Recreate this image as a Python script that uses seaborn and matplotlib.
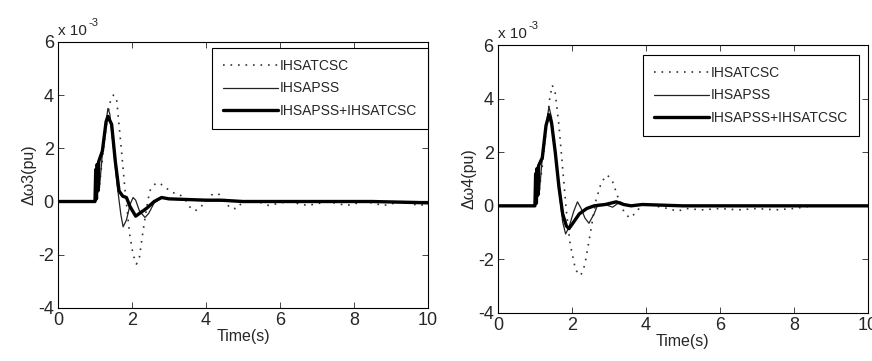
import matplotlib
matplotlib.use('Agg')
import matplotlib.pyplot as plt
import seaborn as sns
import pandas as pd

# values in units of 1e-3 pu
# --- machine 3 (left) ---
t3_tcsc = [0, 1.0, 1.03, 1.06, 1.09, 1.12, 1.2, 1.3, 1.4, 1.5, 1.58, 1.71, 1.82, 1.94, 2.03, 2.12, 2.2,
           2.3, 2.4, 2.48, 2.58, 2.66, 2.75, 2.84, 3.07, 3.3, 3.45, 3.56, 3.7, 3.84, 4.0, 4.15, 4.33,
           4.5, 4.65, 4.83, 5.0, 5.2, 5.4, 5.7, 6.2, 6.75, 7.3, 7.8, 8.3, 8.8, 9.3, 9.75, 10]
d3_tcsc = [0, 0, 0.8, 0.3, 1.2, 0.6, 1.6, 2.8, 3.7, 4.0, 3.9, 2.0, 0.3, -1.25, -2.0, -2.35, -2.1,
           -1.1, -0.2, 0.4, 0.6, 0.7, 0.68, 0.6, 0.35, 0.25, 0.05, -0.2, -0.35, -0.25, 0.05, 0.25, 0.3,
           0.05, -0.25, -0.27, 0.0, 0.05, 0.0, -0.15, 0.0, -0.15, 0.0, -0.15, 0.0, -0.15, 0.0, -0.15, -0.1]

t3_pss = [0, 1.0, 1.03, 1.06, 1.09, 1.12, 1.2, 1.3, 1.35, 1.4, 1.5, 1.6, 1.7, 1.76, 1.85, 1.95, 2.03,
          2.1, 2.2, 2.35, 2.45, 2.6, 2.8, 3.0, 3.5, 4.0, 5.0, 10]
d3_pss = [0, 0, 1.0, 0.2, 1.3, 0.5, 1.8, 3.0, 3.5, 3.3, 2.0, 0.6, -0.5, -0.95, -0.7, -0.1, 0.15,
          0.05, -0.35, -0.6, -0.45, -0.05, 0.15, 0.1, 0.05, 0.03, 0.0, 0.0]

t3_both = [0, 1.0, 1.02, 1.04, 1.06, 1.08, 1.1, 1.2, 1.3, 1.35, 1.45, 1.55, 1.65, 1.75, 1.85, 1.95,
           2.1, 2.2, 2.4, 2.6, 2.8, 3.0, 4.0, 4.4, 5.0, 8.5, 10]
d3_both = [0, 0, 1.2, 0.1, 1.4, 0.4, 1.5, 1.9, 3.0, 3.2, 2.9, 1.5, 0.4, 0.2, 0.15, -0.2,
           -0.55, -0.45, -0.25, 0.0, 0.15, 0.1, 0.05, 0.05, 0.0, 0.0, -0.05]

# --- machine 4 (right) ---
t4_tcsc = [0, 1.0, 1.03, 1.06, 1.09, 1.12, 1.2, 1.3, 1.4, 1.47, 1.55, 1.65, 1.75, 1.85, 1.95, 2.1,
           2.24, 2.35, 2.5, 2.65, 2.8, 2.96, 3.1, 3.25, 3.4, 3.55, 3.7, 3.9, 4.1, 4.4, 4.6, 4.85,
           5.1, 5.5, 6.0, 6.5, 7.0, 7.5, 8.0, 8.5, 10]
d4_tcsc = [0, 0, 0.8, 0.3, 1.2, 0.6, 1.5, 2.8, 4.0, 4.5, 4.2, 3.0, 1.4, -0.2, -1.4, -2.4,
           -2.6, -2.2, -1.0, 0.2, 0.9, 1.15, 0.9, 0.3, -0.2, -0.45, -0.3, 0.05, 0.05, -0.05, -0.1, -0.2,
           -0.1, -0.15, -0.1, -0.15, -0.1, -0.15, -0.1, 0.0, 0.0]

t4_pss = [0, 1.0, 1.03, 1.06, 1.09, 1.12, 1.2, 1.3, 1.38, 1.45, 1.55, 1.65, 1.75, 1.83, 1.92, 2.05,
          2.15, 2.25, 2.35, 2.46, 2.6, 2.7, 2.9, 3.1, 3.3, 3.5, 4.0, 5.0, 10]
d4_pss = [0, 0, 1.0, 0.2, 1.3, 0.5, 1.8, 3.0, 3.7, 3.3, 2.0, 0.6, -0.6, -1.05, -0.8, -0.2,
          0.15, -0.1, -0.45, -0.65, -0.3, 0.05, 0.05, -0.05, 0.15, 0.0, 0.05, 0.0, 0.0]

t4_both = [0, 1.0, 1.02, 1.04, 1.06, 1.08, 1.1, 1.2, 1.3, 1.38, 1.45, 1.55, 1.65, 1.75, 1.85, 1.92,
           2.05, 2.2, 2.4, 2.6, 2.9, 3.2, 3.4, 3.6, 3.9, 5.0, 10]
d4_both = [0, 0, 1.2, 0.1, 1.4, 0.4, 1.5, 1.8, 3.0, 3.4, 3.1, 2.0, 0.7, -0.3, -0.75, -0.85,
           -0.6, -0.3, -0.1, 0.0, 0.05, 0.15, 0.05, 0.0, 0.05, 0.0, 0.0]

labels = ['IHSATCSC', 'IHSAPSS', 'IHSAPSS+IHSATCSC']
ylabels = ['\u0394\u03c93(pu)', '\u0394\u03c94(pu)']
xticks = [0, 2, 4, 6, 8, 10]
yticks = [-4, -2, 0, 2, 4, 6]

sns.set_style('ticks', {'xtick.direction': 'in', 'ytick.direction': 'in',
                        'axes.edgecolor': 'black'})
plt.rcParams['font.family'] = ['Liberation Sans', 'DejaVu Sans']
plt.rcParams['axes.unicode_minus'] = False

fig = plt.figure(figsize=(8.72, 3.61), dpi=100)
axes = [fig.add_axes([0.0665, 0.147, 0.4243, 0.737]),
        fig.add_axes([0.571, 0.133, 0.4243, 0.742])]

panels = [[(t3_tcsc, d3_tcsc), (t3_pss, d3_pss), (t3_both, d3_both)],
          [(t4_tcsc, d4_tcsc), (t4_pss, d4_pss), (t4_both, d4_both)]]
styles = [dict(linestyle=(0, (1, 3.5)), linewidth=1.2, color='#333333'),
          dict(linestyle='-', linewidth=0.9, color='#222222'),
          dict(linestyle='-', linewidth=2.4, color='black')]
leg_anchor = [(1.0, 0.977), (0.976, 0.963)]

for ax, series, ylab, anc in zip(axes, panels, ylabels, leg_anchor):
    for (t, d), lab, st in zip(series, labels, styles):
        df = pd.DataFrame({'t': t, 'v': d})
        sns.lineplot(data=df, x='t', y='v', ax=ax, label=lab,
                     estimator=None, sort=False, **st)
    ax.set_xlim(0, 10)
    ax.set_ylim(-4, 6)
    ax.set_xticks(xticks)
    ax.set_yticks(yticks)
    ax.tick_params(top=True, right=True, length=4, width=0.6, labelsize=13, pad=3)
    for s in ax.spines.values():
        s.set_linewidth(0.8)
    ax.set_xlabel('Time(s)', fontsize=11.5, labelpad=0)
    ax.set_ylabel(ylab, fontsize=11.5, labelpad=1)
    ax.text(0.0, 1.015, 'x 10', transform=ax.transAxes, ha='left', va='bottom',
            fontsize=11)
    ax.annotate('-3', xy=(0.0, 1.015), xycoords='axes fraction', xytext=(22, 7),
                textcoords='offset points', ha='left', va='bottom', fontsize=8)
    leg = ax.legend(loc='upper right', bbox_to_anchor=anc, borderaxespad=0,
                    fontsize=10, handlelength=4, labelspacing=0.6, handletextpad=0.1,
                    borderpad=0.8, fancybox=False, framealpha=1, edgecolor='black')
    leg.get_frame().set_linewidth(0.8)

fig.savefig('out.png', dpi=100)
